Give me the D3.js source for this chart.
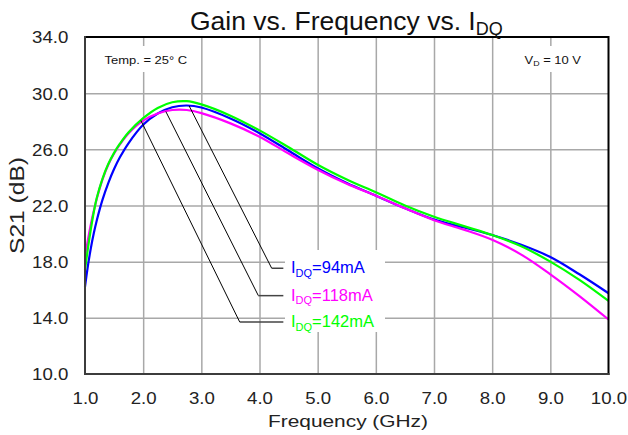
<!DOCTYPE html>
<html><head><meta charset="utf-8">
<script src="https://cdn.jsdelivr.net/npm/d3@7"></script>
<style>
html,body{margin:0;padding:0;background:#fff;}
text{font-family:"Liberation Sans",Arial,sans-serif;}
</style></head>
<body><svg id="c" width="628" height="435"></svg>
<script>
// ---- data ----
const freq = [1.0,1.05,1.1,1.15,1.2,1.3,1.4,1.5,1.6,1.75,2.0,2.25,2.5,2.75,3.0,3.5,4.0,4.5,5.0,5.5,6.0,6.5,7.0,7.5,8.0,8.5,9.0,9.5,10.0];
const gain94  = [16.2,17.7,18.95,20.0,20.9,22.4,23.6,24.6,25.43,26.45,27.75,28.55,29.0,29.12,28.98,28.2,27.15,25.9,24.65,23.6,22.7,21.8,21.0,20.45,19.9,19.2,18.33,17.1,15.75];
const gain118 = [18.3,19.55,20.65,21.6,22.45,23.85,24.9,25.7,26.35,27.15,28.05,28.55,28.8,28.8,28.58,27.85,26.9,25.7,24.55,23.55,22.7,21.8,20.95,20.3,19.56,18.5,17.1,15.55,13.88];
const gain142 = [17.4,18.95,20.3,21.5,22.5,23.9,24.95,25.75,26.4,27.22,28.22,28.95,29.35,29.43,29.2,28.4,27.35,26.15,24.9,23.85,22.95,22.0,21.2,20.55,19.9,19.1,18.0,16.7,15.2];
const seriesNames = ["94mA","118mA","142mA"];
const xTicks = [1,2,3,4,5,6,7,8,9,10];
const yTicks = [10,14,18,22,26,30,34];

// ---- styling / layout ----
const colors = ["#0000ff","#ff00ff","#00ff00"];
const L=85, R=608.5, T=37, B=374;
const x = d3.scaleLinear().domain([1,10]).range([L,R]);
const y = d3.scaleLinear().domain([10,34]).range([B,T]);
const svg = d3.select("#c");

// gridlines
svg.append("g").attr("transform",`translate(0,${B})`)
  .call(d3.axisBottom(x).tickValues(xTicks.slice(1,-1)).tickSize(-(B-T)).tickFormat(""))
  .call(g=>g.select(".domain").remove())
  .call(g=>g.selectAll("line").attr("stroke","#a8a8a8").attr("stroke-width",1.5));
svg.append("g").attr("transform",`translate(${L},0)`)
  .call(d3.axisLeft(y).tickValues(yTicks.slice(1,-1)).tickSize(-(R-L)).tickFormat(""))
  .call(g=>g.select(".domain").remove())
  .call(g=>g.selectAll("line").attr("stroke","#a8a8a8").attr("stroke-width",1.5));

// white boxes behind annotations
svg.append("rect").attr("x",97).attr("y",46).attr("width",100).attr("height",26).attr("fill","#fff");
svg.append("rect").attr("x",516).attr("y",46).attr("width",76).attr("height",26).attr("fill","#fff");
svg.append("rect").attr("x",285).attr("y",250).attr("width",100).attr("height",82).attr("fill","#fff");

// curves
const series = [gain94, gain118, gain142];
const line = d3.line().x((d,i)=>x(freq[i])).y(d=>y(d)).curve(d3.curveCatmullRom.alpha(0.5));
series.forEach((s,k)=>{
  svg.append("path").datum(s).attr("d",line).attr("fill","none")
    .attr("stroke",colors[k]).attr("stroke-width",2.2);
});

// leader lines and labels
const leaderStartF = [2.79, 2.39, 1.96];
const leaderElbowF = [4.21, 3.98, 3.66];
const leaderLabelV = [17.53, 15.58, 13.70];
const leaderEndF = 4.41;
function valAt(s,f){
  const i = d3.bisectRight(freq,f)-1;
  const t=(f-freq[i])/(freq[i+1]-freq[i]);
  return s[i]+(s[i+1]-s[i])*t;
}
series.forEach((s,k)=>{
  svg.append("line").attr("x1",x(leaderStartF[k])).attr("y1",y(valAt(s,leaderStartF[k])))
    .attr("x2",x(leaderElbowF[k])).attr("y2",y(leaderLabelV[k]))
    .attr("stroke","#000").attr("stroke-width",1);
  svg.append("line").attr("x1",x(leaderElbowF[k])).attr("y1",y(leaderLabelV[k]))
    .attr("x2",x(leaderEndF)).attr("y2",y(leaderLabelV[k]))
    .attr("stroke","#444").attr("stroke-width",1.5);
  const t = svg.append("text").attr("x",291).attr("y",y(leaderLabelV[k])+5)
    .attr("fill",colors[k]).attr("font-size",16.5);
  t.append("tspan").text("I");
  t.append("tspan").attr("font-size",11).attr("dy",3.5).text("DQ");
  t.append("tspan").attr("dy",-3.5).text("="+seriesNames[k]);
});

// border
svg.append("line").attr("x1",L).attr("x2",R).attr("y1",T).attr("y2",T).attr("stroke","#000").attr("stroke-width",2);
svg.append("line").attr("x1",R).attr("x2",R).attr("y1",T-1).attr("y2",B+1).attr("stroke","#000").attr("stroke-width",2);
svg.append("line").attr("x1",L).attr("x2",R+1).attr("y1",B).attr("y2",B).attr("stroke","#3c3c3c").attr("stroke-width",2);
svg.append("line").attr("x1",L).attr("x2",L).attr("y1",T-1).attr("y2",B+1).attr("stroke","#3c3c3c").attr("stroke-width",2);

// axis tick labels
const sx = 1.13;
svg.append("g").attr("transform",`translate(0,${B})`)
  .call(d3.axisBottom(x).tickValues(xTicks).tickSize(0).tickFormat(d3.format(".1f")))
  .call(g=>g.select(".domain").remove())
  .call(g=>g.selectAll("text").attr("y",30).attr("dy",0).attr("font-size",16.5)
     .attr("font-family",'"Liberation Sans",Arial,sans-serif').attr("fill","#222")
     .attr("transform",`scale(${sx},1)`));
svg.append("g").attr("transform",`translate(${L},0)`)
  .call(d3.axisLeft(y).tickValues(yTicks).tickSize(0).tickFormat(d3.format(".1f")))
  .call(g=>g.select(".domain").remove())
  .call(g=>g.selectAll("text").attr("x",-16.7/sx).attr("dy","0.36em").attr("font-size",16.5)
     .attr("font-family",'"Liberation Sans",Arial,sans-serif').attr("fill","#222")
     .attr("transform",`scale(${sx},1)`));

// axis titles
svg.append("text").attr("x",348).attr("y",427).attr("text-anchor","middle")
  .attr("font-size",17).attr("textLength",160).attr("lengthAdjust","spacingAndGlyphs")
  .attr("fill","#222").text("Frequency (GHz)");
svg.append("text").attr("transform","translate(24,205.5) rotate(-90)").attr("text-anchor","middle")
  .attr("font-size",21).attr("textLength",97).attr("lengthAdjust","spacingAndGlyphs")
  .attr("fill","#222").text("S21 (dB)");

// chart title
const tt = svg.append("text").attr("x",190).attr("y",30).attr("font-size",26.5).attr("fill","#111");
tt.append("tspan").text("Gain vs. Frequency vs. I");
tt.append("tspan").attr("font-size",18).attr("dy",5).text("DQ");

// condition notes
const g1 = svg.append("g").attr("transform","translate(104.5,64) scale(1.18,1)");
g1.append("text").attr("font-size",11).attr("fill","#111").text("Temp. = 25° C");
const g2 = svg.append("g").attr("transform","translate(524.5,64) scale(1.18,1)");
const vt = g2.append("text").attr("font-size",11).attr("fill","#111");
vt.append("tspan").text("V");
vt.append("tspan").attr("font-size",7.5).attr("dy",2).text("D");
vt.append("tspan").attr("dy",-2).text(" = 10 V");
</script></body></html>
